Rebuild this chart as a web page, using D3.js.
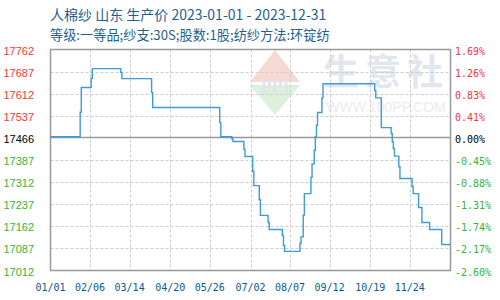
<!DOCTYPE html>
<html><head><meta charset="utf-8">
<script src="https://cdn.jsdelivr.net/npm/d3@7"></script>
<style>html,body{margin:0;padding:0;background:#fff;}svg{display:block;}</style>
</head><body>
<svg id="c" width="500" height="300"></svg>
<script>
const titleText = "人棉纱 山东 生产价 2023-01-01 - 2023-12-31";
const subtitleText = "等级:一等品;纱支:30S;股数:1股;纺纱方法:环锭纺";
const baseValue = 17466;
const priceTicks = [17012, 17087, 17162, 17237, 17312, 17387, 17466, 17537, 17612, 17687, 17762];
const pctLabels = ["-2.60%", "-2.17%", "-1.74%", "-1.31%", "-0.88%", "-0.45%", "0.00%", "0.41%", "0.83%", "1.26%", "1.69%"];
const dateTicks = ["2023-01-01","2023-02-06","2023-03-14","2023-04-20","2023-05-26","2023-07-02","2023-08-07","2023-09-12","2023-10-19","2023-11-24"];
const changeDates = ["2023-01-01","2023-01-28","2023-01-29","2023-02-07","2023-02-08","2023-03-06","2023-03-07","2023-04-03","2023-04-04",
  "2023-06-04","2023-06-05","2023-06-15","2023-06-16","2023-06-26","2023-06-27","2023-07-04","2023-07-05","2023-07-10","2023-07-11",
  "2023-07-18","2023-07-19","2023-07-31","2023-08-01","2023-08-02","2023-08-16","2023-08-17","2023-08-19","2023-08-20","2023-08-26","2023-08-27",
  "2023-08-29","2023-08-30","2023-08-31","2023-09-01","2023-09-05","2023-09-06","2023-10-23","2023-10-24","2023-10-29",
  "2023-11-07","2023-11-08","2023-11-09","2023-11-10","2023-11-14","2023-11-15","2023-11-26","2023-11-27","2023-12-02","2023-12-05",
  "2023-12-12","2023-12-23","2023-12-31"];
const changeValues = [17466,17549,17633,17664,17697,17684,17663,17616,17565,
  17514,17466,17459,17450,17423,17399,17349,17300,17252,17199,
  17175,17151,17131,17097,17077,17104,17126,17200,17273,17328,17374,
  17420,17466,17505,17548,17598,17646,17623,17598,17497,
  17477,17449,17426,17400,17364,17324,17297,17273,17226,17175,
  17151,17100,17100];

const parse = d3.timeParse("%Y-%m-%d");
const data = changeDates.map((d,i)=>({date:parse(d), value:changeValues[i]}));
const svg = d3.select("#c");
const L=50.5, R=450.5, T=49.5, B=270.5;
const x = d3.scaleTime().domain([parse("2023-01-01"), parse("2023-12-31")]).range([L, R]);
const y = d3.scaleLinear().domain([17012, 17762]).range([B, T]);
const gridY = v => v === baseValue ? Math.round(y(17462)) + 0.5 : Math.round(y(v)) + 0.5;

// watermark
const wm = svg.append("g");
wm.append("path").attr("d", "M275,50 L300,82 L250,82 Z").attr("fill", "#f7d9d4");
wm.append("path").attr("d", "M250,85 L300,85 L275,115 Z").attr("fill", "#dcf0dc");
wm.append("text").attr("x", 275).attr("y", 93).attr("text-anchor","middle").attr("font-family","Liberation Serif").attr("font-weight","bold")
  .attr("font-size", 18).attr("fill", "#dfe3ec").text("PPI");
wm.append("text").attr("x", 386).attr("y", 85).attr("text-anchor","middle").attr("font-family","Noto Sans CJK SC").attr("font-weight","bold")
  .attr("font-size", 36).attr("letter-spacing", 6).attr("fill", "#e2e6ef").text("生意社");
wm.append("text").attr("x", 386).attr("y", 112).attr("text-anchor","middle").attr("font-family","Liberation Sans")
  .attr("font-size", 14).attr("fill", "#ececec").text("WWW.100PP.COM");

// grid
const g = svg.append("g");
g.selectAll("line.h").data(priceTicks.filter(v=>v!==baseValue && v!==17012 && v!==17762)).join("line")
  .attr("x1", L).attr("x2", R).attr("y1", v=>gridY(v)).attr("y2", v=>gridY(v))
  .attr("stroke", "#cccccc").attr("stroke-dasharray", "3,2");
g.selectAll("line.v").data(dateTicks.slice(1)).join("line")
  .attr("x1", d=>Math.round(x(parse(d)))+0.5).attr("x2", d=>Math.round(x(parse(d)))+0.5).attr("y1", T).attr("y2", B)
  .attr("stroke", "#cccccc").attr("stroke-dasharray", "3,2");
// baseline
g.append("line").attr("x1", L).attr("x2", R).attr("y1", Math.round(y(baseValue))+0.5).attr("y2", Math.round(y(baseValue))+0.5)
  .attr("stroke", "#999").attr("stroke-width", 1.5);
// border
g.append("rect").attr("x", L).attr("y", T).attr("width", R-L).attr("height", B-T).attr("fill","none").attr("stroke","#999").attr("stroke-width",1.5);

// line
svg.append("path").datum(data)
  .attr("d", d3.line().x(d=>x(d.date)).y(d=>y(d.value)).curve(d3.curveStepAfter))
  .attr("fill","none").attr("stroke","#3d9bd8").attr("stroke-width",1.4);

// left axis labels
const colorFor = i => i < 6 ? "#33b533" : (i === 6 ? "#000000" : "#ff3333");
svg.append("g").selectAll("text").data(priceTicks).join("text")
  .attr("x", 34).attr("y", v=>gridY(v)+4).attr("text-anchor","end")
  .attr("font-family","Liberation Sans").attr("font-size", 11)
  .attr("fill", (v,i)=>colorFor(i)).text(v=>v);
// right axis labels
svg.append("g").selectAll("text").data(pctLabels).join("text")
  .attr("x", 455).attr("y", (p,i)=>gridY(priceTicks[i])+4)
  .attr("font-family","DejaVu Sans Mono").attr("font-size", 10)
  .attr("fill", (p,i)=>colorFor(i)).text(p=>p);
// x labels
svg.append("g").selectAll("text").data(dateTicks).join("text")
  .attr("x", d=>x(parse(d))).attr("y", 291).attr("text-anchor","middle")
  .attr("font-family","DejaVu Sans Mono").attr("font-size", 10)
  .attr("fill", "#0b5a8f").text(d=>d3.timeFormat("%m/%d")(parse(d)));

// titles
svg.append("text").attr("x", 50).attr("y", 20).attr("font-family","Noto Sans CJK SC").attr("font-size", 14)
  .attr("fill","#1f5f8f").text(titleText);
svg.append("text").attr("x", 50).attr("y", 40).attr("font-family","Noto Sans CJK SC").attr("font-size", 13.2)
  .attr("fill","#1f5f8f").text(subtitleText);
</script>
</body></html>
